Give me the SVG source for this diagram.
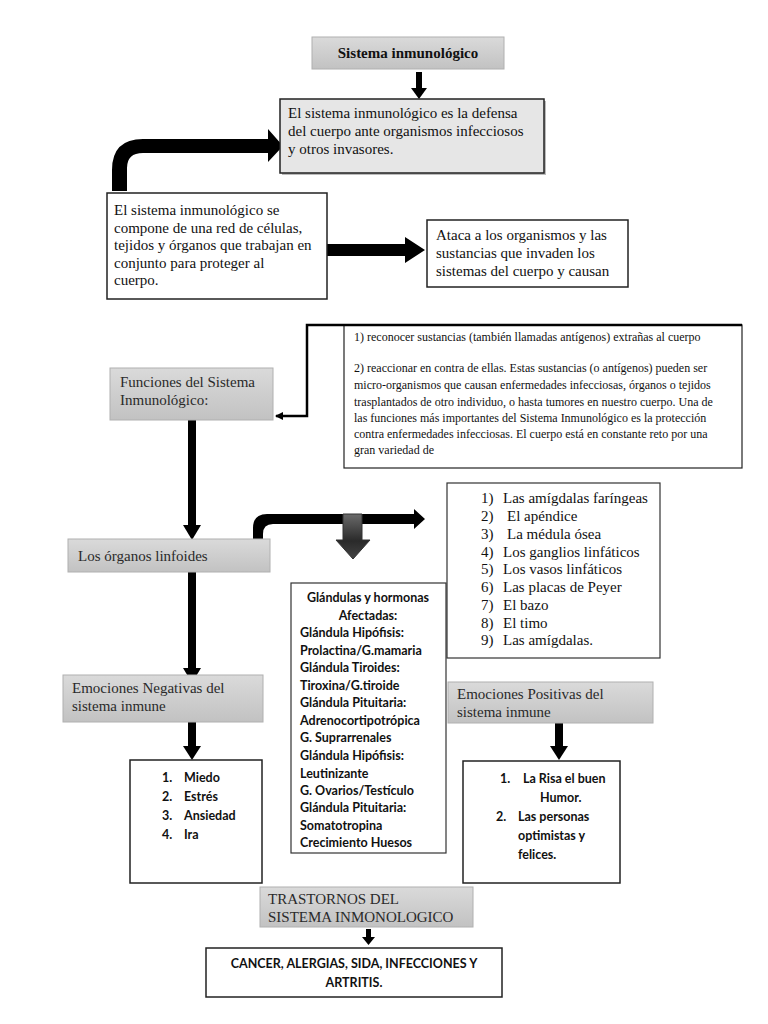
<svg xmlns="http://www.w3.org/2000/svg" width="768" height="1024" viewBox="0 0 768 1024">
<defs>
<linearGradient id="gray" x1="0" y1="0" x2="0" y2="1">
<stop offset="0" stop-color="#dadada"/>
<stop offset="1" stop-color="#c2c2c2"/>
</linearGradient>
<linearGradient id="darr" x1="0" y1="0" x2="0" y2="1">
<stop offset="0" stop-color="#6a6a6a"/>
<stop offset="0.6" stop-color="#2a2a2a"/>
<stop offset="1" stop-color="#444"/>
</linearGradient>
<marker id="sm" markerWidth="8" markerHeight="8" refX="7" refY="4" orient="auto" markerUnits="userSpaceOnUse">
<path d="M0,0 L8,4 L0,8 Z" fill="#000"/>
</marker>
<style>
.g{fill:url(#gray);stroke:#b0b0b0;stroke-width:1}
.w{fill:#fff;stroke:#222;stroke-width:1.5}
.s{font-family:"Liberation Serif","Times New Roman",serif;font-size:15px;fill:#111}
.sg{font-family:"Liberation Serif","Times New Roman",serif;font-size:15px;fill:#2a2a2a}
.sm{font-family:"Liberation Serif","Times New Roman",serif;font-size:12px;fill:#111}
.b{font-family:Lato,"Liberation Sans",sans-serif;font-size:12.5px;font-weight:bold;fill:#111}
</style>
</defs>
<g id="connectors">
<rect x="416" y="72" width="6" height="17" fill="#000"/>
<path d="M411,88 L427,88 L419,99 Z" fill="#000"/>
<path d="M112,191 L112,170 Q112,139 143,139 L268,139 L268,129 L283,146 L268,162 L268,153 L143,153 Q127,153 127,168 L127,191 Z" fill="#000"/>
<path d="M318,244 L405,244 L405,237 L425,250 L405,263 L405,256 L318,256 Z" fill="#000"/>
<polyline points="343,325 307,325 307,416 276,416" fill="none" stroke="#000" stroke-width="2.5" marker-end="url(#sm)"/>
<rect x="188" y="420" width="8" height="106" fill="#000"/>
<path d="M183,525 L201,525 L192,540 Z" fill="#000"/>
<path d="M253,541 L253,528 Q253,514 267,514 L414,514 L414,509 L425,519 L414,529 L414,524 L273,524 Q263,524 263,534 L263,541 Z" fill="#000"/>
<path d="M343,514 L362,514 L362,540 L370,540 L353,559 L336,540 L343,540 Z" fill="url(#darr)" stroke="#333" stroke-width="1"/>
<rect x="188" y="572" width="8" height="98" fill="#000"/>
<path d="M183,668 L201,668 L192,683 Z" fill="#000"/>
<rect x="188" y="722" width="8" height="26" fill="#000"/>
<path d="M183,746 L201,746 L192,760 Z" fill="#000"/>
<rect x="555" y="716" width="8" height="32" fill="#000"/>
<path d="M550,746 L568,746 L559,760 Z" fill="#000"/>
<rect x="366" y="929" width="5" height="10" fill="#000"/>
<path d="M362,937 L375,937 L368.5,945 Z" fill="#000"/>
</g>
<g id="titulo">
<rect class="g" x="312" y="37" width="192" height="32"/>
<text x="408" y="58" text-anchor="middle" class="s" font-weight="bold" font-size="14.5">Sistema inmunológico</text>
</g>
<g id="defensa">
<rect x="282" y="101" width="264" height="74" fill="#bbb"/>
<rect x="280" y="99" width="264" height="74" fill="#e6e6e6" stroke="#222" stroke-width="1.5"/>
<text class="s" x="288" y="118">El sistema inmunológico es la defensa</text>
<text class="s" x="288" y="136">del cuerpo ante organismos infecciosos</text>
<text class="s" x="288" y="154">y otros invasores.</text>
</g>
<g id="red">
<rect class="w" x="107" y="193" width="220" height="106"/>
<text class="s" x="114" y="215">El sistema inmunológico se</text>
<text class="s" x="114" y="233">compone de una red de células,</text>
<text class="s" x="114" y="250">tejidos y órganos que trabajan en</text>
<text class="s" x="114" y="268">conjunto para proteger al</text>
<text class="s" x="114" y="285">cuerpo.</text>
</g>
<g id="ataca">
<rect class="w" x="427" y="220" width="201" height="67"/>
<text class="s" x="436" y="240">Ataca a los organismos y las</text>
<text class="s" x="436" y="258">sustancias que invaden los</text>
<text class="s" x="436" y="276">sistemas del cuerpo y causan</text>
</g>
<g id="funciones-texto">
<rect x="344" y="325" width="398" height="143" fill="#fff" stroke="#222" stroke-width="1.2"/>
<line x1="343" y1="325" x2="742" y2="325" stroke="#000" stroke-width="2.5"/>
<text class="sm" x="354" y="341">1) reconocer sustancias (también llamadas antígenos) extrañas al cuerpo</text>
<text class="sm" x="354" y="372">2) reaccionar en contra de ellas. Estas sustancias (o antígenos) pueden ser</text>
<text class="sm" x="354" y="389">micro-organismos que causan enfermedades infecciosas, órganos o tejidos</text>
<text class="sm" x="354" y="406">trasplantados de otro individuo, o hasta tumores en nuestro cuerpo. Una de</text>
<text class="sm" x="354" y="422">las funciones más importantes del Sistema Inmunológico es la protección</text>
<text class="sm" x="354" y="438">contra enfermedades infecciosas. El cuerpo está en constante reto por una</text>
<text class="sm" x="354" y="454">gran variedad de</text>
</g>
<g id="funciones">
<rect class="g" x="110" y="368" width="163" height="52"/>
<text class="sg" x="120" y="387">Funciones del Sistema</text>
<text class="sg" x="120" y="405">Inmunológico:</text>
</g>
<g id="organos">
<rect class="g" x="68" y="539" width="202" height="33"/>
<text class="sg" x="78" y="561">Los órganos linfoides</text>
</g>
<g id="lista-organos">
<rect x="447" y="483" width="213" height="175" fill="#fff" stroke="#333" stroke-width="1.2"/>
<text class="s" x="481" y="503">1)</text><text class="s" x="503" y="503">Las amígdalas faríngeas</text>
<text class="s" x="481" y="521">2)</text><text class="s" x="507" y="521">El apéndice</text>
<text class="s" x="481" y="539">3)</text><text class="s" x="507" y="539">La médula ósea</text>
<text class="s" x="481" y="557">4)</text><text class="s" x="503" y="557">Los ganglios linfáticos</text>
<text class="s" x="481" y="574">5)</text><text class="s" x="503" y="574">Los vasos linfáticos</text>
<text class="s" x="481" y="592">6)</text><text class="s" x="503" y="592">Las placas de Peyer</text>
<text class="s" x="481" y="610">7)</text><text class="s" x="503" y="610">El bazo</text>
<text class="s" x="481" y="628">8)</text><text class="s" x="503" y="628">El timo</text>
<text class="s" x="481" y="645">9)</text><text class="s" x="503" y="645">Las amígdalas.</text>
</g>
<g id="glandulas">
<rect x="291" y="583" width="155" height="270" fill="#fff" stroke="#333" stroke-width="1.2"/>
<text class="b" x="368" y="602" text-anchor="middle">Glándulas y hormonas</text>
<text class="b" x="368" y="620" text-anchor="middle">Afectadas:</text>
<text class="b" x="300" y="637">Glándula Hipófisis:</text>
<text class="b" x="300" y="655">Prolactina/G.mamaria</text>
<text class="b" x="300" y="672">Glándula Tiroides:</text>
<text class="b" x="300" y="690">Tiroxina/G.tiroide</text>
<text class="b" x="300" y="707">Glándula Pituitaria:</text>
<text class="b" x="300" y="725">Adrenocortipotrópica</text>
<text class="b" x="300" y="742">G. Suprarrenales</text>
<text class="b" x="300" y="760">Glándula Hipófisis:</text>
<text class="b" x="300" y="778">Leutinizante</text>
<text class="b" x="300" y="795">G. Ovarios/Testículo</text>
<text class="b" x="300" y="812">Glándula Pituitaria:</text>
<text class="b" x="300" y="830">Somatotropina</text>
<text class="b" x="300" y="847">Crecimiento Huesos</text>
</g>
<g id="emociones-negativas">
<rect class="g" x="63" y="675" width="200" height="47"/>
<text class="sg" x="72" y="693">Emociones Negativas del</text>
<text class="sg" x="72" y="711">sistema inmune</text>
</g>
<g id="lista-negativas">
<rect class="w" x="130" y="760" width="132" height="123"/>
<text class="b" x="162" y="782" font-weight="600">1.</text><text class="b" x="184" y="782" font-weight="600">Miedo</text>
<text class="b" x="162" y="801" font-weight="600">2.</text><text class="b" x="184" y="801" font-weight="600">Estrés</text>
<text class="b" x="162" y="820" font-weight="600">3.</text><text class="b" x="184" y="820" font-weight="600">Ansiedad</text>
<text class="b" x="162" y="839" font-weight="600">4.</text><text class="b" x="184" y="839" font-weight="600">Ira</text>
</g>
<g id="emociones-positivas">
<rect class="g" x="448" y="682" width="205" height="41"/>
<text class="sg" x="457" y="699">Emociones Positivas del</text>
<text class="sg" x="457" y="717">sistema inmune</text>
</g>
<g id="lista-positivas">
<rect class="w" x="463" y="761" width="157" height="122"/>
<text class="b" x="500" y="783">1.</text><text class="b" x="523" y="783">La Risa el buen</text>
<text class="b" x="540" y="802">Humor.</text>
<text class="b" x="496" y="821">2.</text><text class="b" x="518" y="821">Las personas</text>
<text class="b" x="518" y="840">optimistas y</text>
<text class="b" x="518" y="859">felices.</text>
</g>
<g id="trastornos">
<rect class="g" x="260" y="887" width="213" height="40"/>
<text class="sg" x="268" y="904">TRASTORNOS DEL</text>
<text class="sg" x="268" y="922">SISTEMA INMONOLOGICO</text>
</g>
<g id="enfermedades">
<rect class="w" x="206" y="948" width="296" height="49"/>
<text class="b" x="354" y="968" text-anchor="middle">CANCER, ALERGIAS, SIDA, INFECCIONES Y</text>
<text class="b" x="354" y="987" text-anchor="middle">ARTRITIS.</text>
</g>
</svg>
